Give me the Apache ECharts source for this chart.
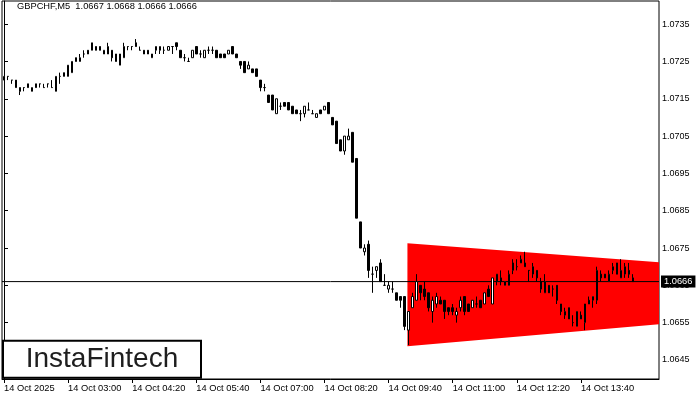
<!DOCTYPE html>
<html>
<head>
<meta charset="utf-8">
<script src="https://cdn.jsdelivr.net/npm/echarts@6/dist/echarts.min.js"></script>
<style>
html,body{margin:0;padding:0;background:#fff;}
#chart{width:700px;height:400px;}
</style>
</head>
<body>
<div id="chart"></div>
<script>
// ---- data (GBPCHF, M5, 14 Oct 2025, first bar 01:40) ----
const symbol = "GBPCHF";
const timeframe = "M5";
const startTime = "01:40";
const slotCount = 164; // bars + empty space on the right
const tickLabels = ["14 Oct 2025","14 Oct 03:00","14 Oct 04:20","14 Oct 05:40","14 Oct 07:00","14 Oct 08:20","14 Oct 09:40","14 Oct 11:00","14 Oct 12:20","14 Oct 13:40"];
const tickEvery = 16;
const priceTicks = [1.0645,1.0655,1.0665,1.0675,1.0685,1.0695,1.0705,1.0715,1.0725,1.0735];

const opens = [
1.0720,1.0721,1.0720,1.0720,1.0718,1.0718,1.0719,1.0717,1.0719,1.0719,
1.0718,1.0719,1.0718,1.0717,1.0721,1.0721,1.0721,1.0722,1.0726,1.0725,
1.0727,1.0728,1.0728,1.0729,1.0729,1.0727,1.0727,1.0728,1.0727,1.0724,
1.0726,1.0729,1.0729,1.0730,1.0728,1.0728,1.0728,1.0726,1.0728,1.0728,
1.0728,1.0728,1.0729,1.0730,1.0728,1.0726,1.0725,1.0726,1.0729,1.0727,
1.0726,1.0728,1.0728,1.0728,1.0727,1.0727,1.0727,1.0729,1.0727,1.0725,
1.0725,1.0723,1.0723,1.0723,1.0720,1.0718,1.0716,1.0716,1.0711,1.0713,
1.0714,1.0714,1.0713,1.0712,1.0711,1.0711,1.0712,1.0711,1.0710,1.0712,
1.0712,1.0714,1.0710,1.0709,1.0704,1.0701,1.0704,1.0706,1.0699,1.0682,
1.0674,1.0676,1.0668,1.0669,1.0671,1.0665,1.0664,1.0664,1.0663,1.0662,
1.0662,1.0653,1.0659,1.0661,1.0665,1.0664,1.0663,1.0658,1.0660,1.0661,
1.0661,1.0659,1.0659,1.0657,1.0659,1.0662,1.0660,1.0659,1.0660,1.0661,
1.0660,1.0664,1.0660,1.0666,1.0667,1.0665,1.0665,1.0669,1.0670,1.0671,
1.0671,1.0669,1.0668,1.0669,1.0666,1.0663,1.0665,1.0664,1.0665,1.0660,
1.0657,1.0659,1.0655,1.0654,1.0657,1.0655,1.0661,1.0661,1.0661,1.0668,
1.0668,1.0666,1.0669,1.0671,1.0667,1.0668,1.0669,1.0667
];
const closes = [
1.0721,1.0721,1.0720,1.0718,1.0717,1.0718,1.0718,1.0718,1.0718,1.0719,
1.0718,1.0719,1.0718,1.0721,1.0721,1.0722,1.0724,1.0725,1.0725,1.0726,
1.0727,1.0727,1.0730,1.0728,1.0728,1.0728,1.0729,1.0726,1.0725,1.0727,
1.0729,1.0729,1.0729,1.0729,1.0728,1.0727,1.0727,1.0727,1.0729,1.0729,
1.0728,1.0729,1.0729,1.0729,1.0726,1.0726,1.0725,1.0728,1.0727,1.0727,
1.0728,1.0728,1.0728,1.0726,1.0726,1.0726,1.0728,1.0727,1.0726,1.0724,
1.0722,1.0724,1.0722,1.0721,1.0718,1.0718,1.0714,1.0712,1.0715,1.0713,
1.0713,1.0712,1.0711,1.0711,1.0711,1.0713,1.0712,1.0711,1.0711,1.0711,
1.0713,1.0711,1.0708,1.0703,1.0701,1.0705,1.0705,1.0698,1.0683,1.0675,
1.0675,1.0669,1.0668,1.0670,1.0666,1.0665,1.0665,1.0664,1.0661,1.0661,
1.0654,1.0658,1.0662,1.0666,1.0663,1.0662,1.0659,1.0661,1.0662,1.0660,
1.0658,1.0658,1.0658,1.0658,1.0661,1.0658,1.0658,1.0661,1.0660,1.0659,
1.0663,1.0662,1.0667,1.0668,1.0666,1.0666,1.0668,1.0671,1.0670,1.0672,
1.0670,1.0669,1.0670,1.0667,1.0664,1.0666,1.0663,1.0664,1.0661,1.0658,
1.0658,1.0656,1.0655,1.0658,1.0656,1.0660,1.0660,1.0662,1.0669,1.0667,
1.0667,1.0668,1.0670,1.0668,1.0669,1.0670,1.0668,1.0666
];
const lows = [
1.0720,1.0720,1.0719,1.0718,1.0716,1.0717,1.0718,1.0717,1.0718,1.0718,
1.0718,1.0718,1.0718,1.0717,1.0719,1.0721,1.0721,1.0722,1.0725,1.0725,
1.0726,1.0727,1.0728,1.0728,1.0728,1.0727,1.0727,1.0725,1.0725,1.0724,
1.0726,1.0728,1.0728,1.0729,1.0728,1.0727,1.0727,1.0726,1.0727,1.0727,
1.0727,1.0728,1.0727,1.0728,1.0726,1.0725,1.0725,1.0726,1.0727,1.0726,
1.0726,1.0727,1.0727,1.0726,1.0726,1.0726,1.0727,1.0727,1.0726,1.0723,
1.0722,1.0723,1.0722,1.0721,1.0717,1.0717,1.0714,1.0712,1.0711,1.0712,
1.0713,1.0712,1.0711,1.0711,1.0709,1.0710,1.0712,1.0711,1.0710,1.0711,
1.0712,1.0711,1.0708,1.0703,1.0701,1.0700,1.0704,1.0698,1.0683,1.0675,
1.0673,1.0667,1.0663,1.0667,1.0666,1.0665,1.0663,1.0663,1.0661,1.0659,
1.0653,1.0649,1.0659,1.0661,1.0661,1.0661,1.0658,1.0655,1.0659,1.0660,
1.0656,1.0657,1.0657,1.0655,1.0658,1.0657,1.0658,1.0659,1.0659,1.0659,
1.0660,1.0662,1.0660,1.0665,1.0665,1.0665,1.0665,1.0668,1.0669,1.0671,
1.0670,1.0666,1.0667,1.0666,1.0663,1.0663,1.0663,1.0662,1.0660,1.0657,
1.0656,1.0656,1.0654,1.0654,1.0656,1.0653,1.0660,1.0659,1.0660,1.0666,
1.0667,1.0666,1.0668,1.0668,1.0667,1.0667,1.0667,1.0666
];
const highs = [
1.0721,1.0721,1.0720,1.0720,1.0718,1.0718,1.0719,1.0718,1.0719,1.0719,
1.0719,1.0719,1.0720,1.0721,1.0722,1.0722,1.0724,1.0725,1.0726,1.0727,
1.0728,1.0728,1.0730,1.0729,1.0729,1.0728,1.0730,1.0728,1.0727,1.0727,
1.0730,1.0729,1.0729,1.0731,1.0729,1.0728,1.0728,1.0727,1.0729,1.0729,
1.0729,1.0729,1.0729,1.0730,1.0728,1.0727,1.0726,1.0728,1.0729,1.0728,
1.0728,1.0729,1.0729,1.0728,1.0727,1.0727,1.0728,1.0729,1.0727,1.0725,
1.0725,1.0725,1.0723,1.0723,1.0720,1.0719,1.0716,1.0716,1.0715,1.0714,
1.0714,1.0714,1.0713,1.0712,1.0712,1.0713,1.0714,1.0712,1.0711,1.0712,
1.0713,1.0714,1.0710,1.0709,1.0704,1.0705,1.0707,1.0706,1.0699,1.0682,
1.0676,1.0677,1.0670,1.0670,1.0672,1.0668,1.0666,1.0666,1.0663,1.0662,
1.0662,1.0658,1.0663,1.0668,1.0665,1.0666,1.0663,1.0662,1.0663,1.0662,
1.0661,1.0659,1.0660,1.0659,1.0662,1.0662,1.0660,1.0661,1.0662,1.0661,
1.0663,1.0665,1.0667,1.0668,1.0669,1.0666,1.0669,1.0672,1.0672,1.0673,
1.0674,1.0669,1.0671,1.0669,1.0667,1.0668,1.0665,1.0665,1.0665,1.0660,
1.0659,1.0659,1.0657,1.0658,1.0658,1.0660,1.0662,1.0662,1.0670,1.0669,
1.0668,1.0669,1.0671,1.0671,1.0672,1.0671,1.0671,1.0668
];

// symmetrical triangle pattern (bar position, price)
const patternBars = [100.7, 163.5];
const patternUpper = [1.06763, 1.06712];
const patternLower = [1.06487, 1.06546];

// ---- build ----
const categories = [];
{
  let [h, m] = startTime.split(':').map(Number);
  for (let i = 0; i < slotCount; i++) {
    categories.push('14 Oct ' + String(h).padStart(2,'0') + ':' + String(m).padStart(2,'0'));
    m += 5; if (m >= 60) { m -= 60; h += 1; }
  }
}
const candleData = opens.map((o, i) => [o, closes[i], lows[i], highs[i]]);
const n = opens.length;
const lastO = opens[n-1], lastH = highs[n-1], lastL = lows[n-1], lastC = closes[n-1];
const titleText = symbol + ',' + timeframe + '  ' + [lastO, lastH, lastL, lastC].map(v => v.toFixed(4)).join(' ');

const FONT = 'Liberation Sans';
const tickShown = (idx) => idx % tickEvery === 0 && idx / tickEvery < tickLabels.length;

const chart = echarts.init(document.getElementById('chart'), null, {renderer: 'canvas'});
chart.setOption({
  animation: false,
  backgroundColor: '#fff',
  grid: {left: 2, right: 41, top: 1, bottom: 21, show: true, borderColor: '#000', borderWidth: 1, backgroundColor: 'transparent'},
  xAxis: [{
    type: 'category',
    data: categories,
    boundaryGap: true,
    axisLine: {show: true, lineStyle: {color: '#000', width: 1}},
    axisTick: {show: true, interval: tickShown, alignWithLabel: true, length: 4, lineStyle: {color: '#000'}},
    axisLabel: {
      show: true, interval: tickShown, align: 'left', margin: 5,
      color: '#000', fontFamily: FONT, fontSize: 9.3,
      formatter: (val, idx) => tickLabels[Math.round(idx / tickEvery)]
    },
    splitLine: {show: false}
  }, {
    type: 'value', min: -0.5, max: slotCount - 0.5, show: false
  }],
  yAxis: {
    type: 'value',
    position: 'right',
    min: 1.06399, max: 1.07412,
    scale: true,
    axisLine: {show: true, lineStyle: {color: '#000', width: 1}},
    axisTick: {show: true, length: 4, customValues: priceTicks, lineStyle: {color: '#000'}},
    axisLabel: {show: true, customValues: priceTicks, margin: 3, color: '#000', fontFamily: FONT, fontSize: 9,
      formatter: v => Number(v).toFixed(4)},
    splitLine: {show: false}
  },
  series: [{
    type: 'custom',
    xAxisIndex: 1, yAxisIndex: 0,
    z: 1,
    silent: true,
    data: [[patternBars[0], patternUpper[0]]],
    renderItem: (params, api) => {
      const pts = [
        api.coord([patternBars[0], patternUpper[0]]),
        api.coord([patternBars[1], patternUpper[1]]),
        api.coord([patternBars[1], patternLower[1]]),
        api.coord([patternBars[0], patternLower[0]])
      ];
      return {type: 'polygon', shape: {points: pts}, style: {fill: '#ff0000', stroke: null}};
    }
  }, {
    type: 'line',
    xAxisIndex: 1, yAxisIndex: 0,
    z: 2,
    silent: true,
    symbol: 'none',
    data: [[-0.5, lastC], [slotCount - 0.5, lastC]],
    lineStyle: {color: '#000', width: 1, type: 'solid'},
    endLabel: {
      show: true, distance: 2,
      formatter: () => lastC.toFixed(4),
      color: '#fff', backgroundColor: '#000', padding: [2, 3, 1, 3],
      fontFamily: FONT, fontSize: 9.3
    }
  }, {
    type: 'candlestick',
    xAxisIndex: 0, yAxisIndex: 0,
    z: 3,
    data: candleData,
    barWidth: 2,
    itemStyle: {color: '#fff', color0: '#000', borderColor: '#000', borderColor0: '#000', borderWidth: 1}
  }],
  graphic: [{
    type: 'text', left: 17, top: 2, z: 10,
    style: {text: titleText, fill: '#000', font: '9.3px "Liberation Sans"'}
  }, {
    type: 'rect', z: 20,
    shape: {x: 3, y: 340.7, width: 198, height: 37},
    style: {fill: '#fff', stroke: '#000', lineWidth: 2}
  }, {
    type: 'text', z: 21, x: 102, y: 359.5,
    style: {text: 'InstaFintech', fill: '#1e1e1e', font: '28px "Liberation Sans"', textAlign: 'center', textVerticalAlign: 'middle'}
  }]
});
</script>
</body>
</html>
